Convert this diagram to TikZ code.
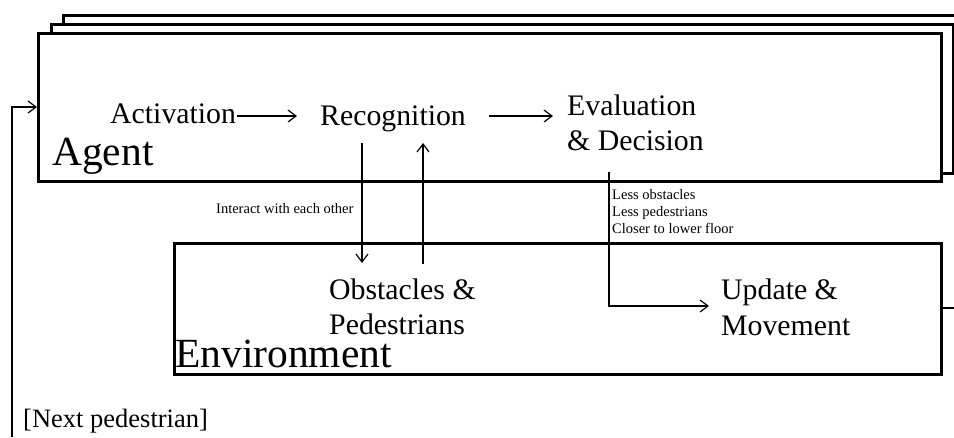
\documentclass[tikz,border=0pt]{standalone}
\usepackage{fontspec}
\setmainfont{Liberation Serif}
\usetikzlibrary{arrows.meta}
\begin{document}
\begin{tikzpicture}[x=1pt,y=-1pt,
  box/.style={draw=black, line width=2.8pt, fill=white, inner sep=0pt, anchor=north west},
  conn/.style={line width=1.2pt, -{Straight Barb[length=8pt,width=12pt,line width=1.2pt]}},
  plain/.style={line width=1.2pt},
  big/.style={font=\fontsize{29.8}{35}\selectfont, inner sep=0pt, anchor=base west},
  huge/.style={font=\fontsize{41.5}{48}\selectfont, inner sep=0pt, anchor=base west},
  mid/.style={font=\fontsize{26.5}{31}\selectfont, inner sep=0pt, anchor=base west},
  small/.style={font=\fontsize{14.5}{17}\selectfont, inner sep=0pt, anchor=base west}]
\useasboundingbox (0,0) rectangle (954,437);
\clip (0,0) rectangle (954,437);
% stacked agent boxes
\node[box, minimum width=904pt, minimum height=150pt] (back) at (62,14) {};
\node[box, minimum width=902pt, minimum height=149pt] (middle) at (50,23) {};
\node[box, minimum width=903pt, minimum height=148pt] (agentbox) at (37,32) {};
% environment box
\node[box, minimum width=767pt, minimum height=131pt] (envbox) at (173,242) {};
% texts
\node[big] (act) at (110,123) {Activation};
\node[big] (rec) at (320,125) {Recognition};
\node[big] (eval) at (567,115) {Evaluation};
\node[big] (dec) at (567,150) {\& Decision};
\node[big] (obs) at (329,299) {Obstacles \&};
\node[big] (ped) at (329,334) {Pedestrians};
\node[big] (upd) at (721,299) {Update \&};
\node[big] (mov) at (721,335) {Movement};
\node[huge] (agent) at (52,165) {Agent};
\node[huge] (env) at (175,367) {Environment};
\node[mid] (next) at (23,427) {[Next pedestrian]};
\node[small] (inter) at (216,213) {Interact with each other};
\node[small] (c1) at (612,199) {Less obstacles};
\node[small] (c2) at (612,216) {Less pedestrians};
\node[small] (c3) at (612,233) {Closer to lower floor};
% connector end points
\coordinate (a1) at (237,116);
\coordinate (a2) at (297,116);
\coordinate (r1) at (489,116);
\coordinate (r2) at (553,116);
\coordinate (d1) at (362,143);
\coordinate (d2) at (362,263);
\coordinate (u1) at (423,264);
\coordinate (u2) at (423,143);
\coordinate (e1) at (609,172);
\coordinate (e2) at (609,306);
\coordinate (e3) at (709,306);
\coordinate (f1) at (12,437);
\coordinate (f2) at (12,107);
\coordinate (f3) at (37,107);
\coordinate (o1) at (940,308);
\coordinate (o2) at (956,308);
% connectors
\draw[conn] (a1) -- (a2);
\draw[conn] (r1) -- (r2);
\draw[conn] (d1) -- (d2);
\draw[conn] (u1) -- (u2);
\draw[conn] (e1) -- (e2) -- (e3);
\draw[conn] (f1) -- (f2) -- (f3);
\draw[plain] (o1) -- (o2);
\end{tikzpicture}
\end{document}
